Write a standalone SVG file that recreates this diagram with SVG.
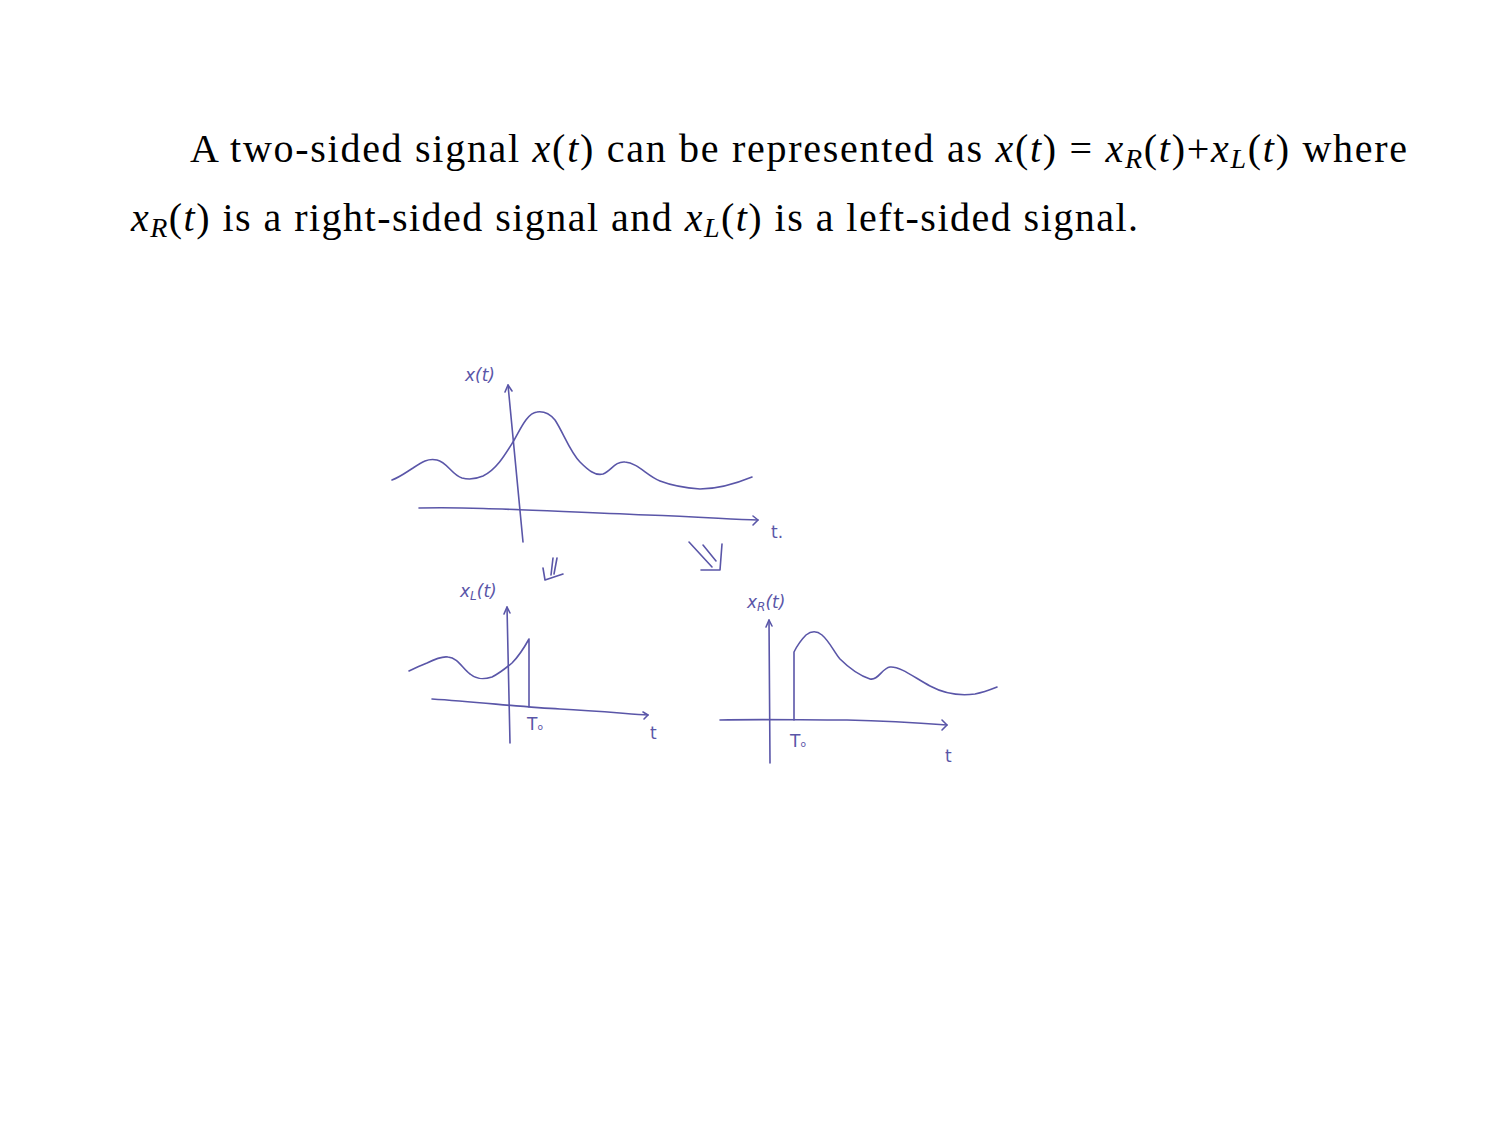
<svg xmlns="http://www.w3.org/2000/svg" width="1500" height="1125" viewBox="0 0 1500 1125">
<style>
.txt{font-family:"Liberation Serif","DejaVu Serif",serif;font-size:40px;fill:#000}
.m{font-style:italic}
.sub{font-style:italic;font-size:28px}
.sk{fill:none;stroke:#5a56a8;stroke-width:1.6;stroke-linecap:round;stroke-linejoin:round}
.hw{font-family:"DejaVu Sans","Liberation Sans",sans-serif;fill:#5a56a8;font-size:17px}
</style>
<rect width="1500" height="1125" fill="#fff"/>
<text class="txt" x="190" y="162" textLength="1217" lengthAdjust="spacing">A two-sided signal <tspan class="m">x</tspan>(<tspan class="m">t</tspan>) can be represented as <tspan class="m">x</tspan>(<tspan class="m">t</tspan>) = <tspan class="m">x</tspan><tspan class="sub" dy="6">R</tspan><tspan dy="-6">(</tspan><tspan class="m">t</tspan>)+<tspan class="m">x</tspan><tspan class="sub" dy="6">L</tspan><tspan dy="-6">(</tspan><tspan class="m">t</tspan>) where</text>
<text class="txt" x="131" y="231" textLength="1007" lengthAdjust="spacing"><tspan class="m">x</tspan><tspan class="sub" dy="6">R</tspan><tspan dy="-6">(</tspan><tspan class="m">t</tspan>) is a right-sided signal and <tspan class="m">x</tspan><tspan class="sub" dy="6">L</tspan><tspan dy="-6">(</tspan><tspan class="m">t</tspan>) is a left-sided signal.</text>

<g id="plot-x">
<path class="sk" d="M508,385 L523,542"/>
<path class="sk" d="M505,392 L508,385 L512,391"/>
<path class="sk" d="M419,508 C480,507 520,510 647,515 C700,517 730,519 758,520"/>
<path class="sk" d="M753,516 L758,520 L753,525"/>
<path class="sk" d="M392,480 C400,477 405,473 413,468 C422,462 428,458 437,460 C447,462 452,475 462,478 C470,480 476,479 483,476 C496,470 505,455 513,442 C520,430 527,413 537,412 C544,411 550,414 555,420 C563,432 570,452 580,462 C588,470 595,476 603,474 C611,471 615,461 625,462 C638,463 647,476 660,481 C673,486 686,488 700,489 C715,489 735,484 752,477"/>
<text class="hw" x="465" y="381" font-style="italic">x(t)</text>
<text class="hw" x="771" y="538" font-size="17">t.</text>
</g>

<g id="plot-xL">
<path class="sk" d="M507,607 L510,743"/>
<path class="sk" d="M504,614 L507,607 L510,613"/>
<path class="sk" d="M432,699 C480,702 520,707 560,709 C600,711 630,714 648,715"/>
<path class="sk" d="M643,712 L648,715 L644,719"/>
<path class="sk" d="M409,671 C415,668 420,666 427,663 C435,659 442,656 448,657 C458,658 462,668 470,674 C476,679 482,680 492,677 C500,673 506,668 512,663 C518,657 524,648 529,639 L529,707"/>
<text class="hw" x="460" y="597" font-style="italic">x<tspan font-size="12" dy="3">L</tspan><tspan dy="-3">(t)</tspan></text>
<text class="hw" x="527" y="730" font-size="13">T<tspan font-size="9">o</tspan></text>
<text class="hw" x="650" y="739" font-size="18">t</text>
</g>

<g id="plot-xR">
<path class="sk" d="M769,620 L770,763"/>
<path class="sk" d="M766,627 L769,620 L772,626"/>
<path class="sk" d="M720,720 C760,719 800,720 847,720 C890,721 920,723 947,725"/>
<path class="sk" d="M942,720 L947,725 L942,730"/>
<path class="sk" d="M794,720 L794,652 C797,646 801,640 806,635 C811,631 816,630 822,635 C830,642 834,652 840,659 C848,667 858,675 870,679 C878,681 882,668 890,667 C900,666 915,678 930,686 C945,694 960,696 975,694 C985,692 992,689 997,687"/>
<text class="hw" x="747" y="608" font-style="italic">x<tspan font-size="12" dy="3">R</tspan><tspan dy="-3">(t)</tspan></text>
<text class="hw" x="790" y="747" font-size="13">T<tspan font-size="9">o</tspan></text>
<text class="hw" x="945" y="762" font-size="20">t</text>
</g>

<g id="arrows">
<path class="sk" d="M553,558 L551,575 M557,558 L554,574 M543,568 L545,580 L563,574" stroke-width="1.3"/>
<path class="sk" d="M689,542 L712,567 M703,545 L716,561 M722,544 L720,570 L701,570" stroke-width="1.3"/>
</g>
</svg>
